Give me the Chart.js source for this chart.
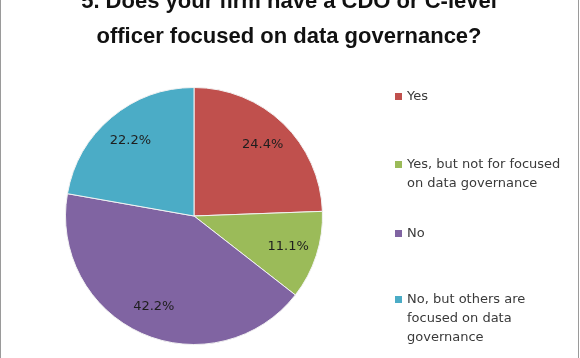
<!DOCTYPE html>
<html lang="en">
<head>
  <meta charset="UTF-8">
  <title>CDO or C-level officer</title>
  <script src="https://cdn.jsdelivr.net/npm/chart.js"></script>
  <style>
    body {
      margin: 0;
      background: #ffffff;
    }
    .wrap {
      position: relative;
      width: 580px;
      height: 358px;
    }
  </style>
</head>
<body>
  <div class="wrap">
    <canvas id="pieChart" width="580" height="358"></canvas>
  </div>

  <script>
    const titleLines = ['5. Does your firm have a CDO or C-level', 'officer focused on data governance?'];
    const categories = ['Yes', 'Yes, but not for focused on data governance', 'No', 'No, but others are focused on data governance'];
    const legendLines = [
      ['Yes'],
      ['Yes, but not for focused', 'on data governance'],
      ['No'],
      ['No, but others are', 'focused on data', 'governance']
    ];
    const shares = [24.4, 11.1, 42.2, 22.2];
    const sliceColors = ['#C0504D', '#9BBB59', '#8064A2', '#4BACC6'];

    // title, slice labels, legend and the frame lines
    const extras = {
      id: 'extras',
      afterDraw(chart) {
        const ctx = chart.ctx;
        ctx.save();

        // frame
        ctx.strokeStyle = '#9a9a9a';
        ctx.lineWidth = 1;
        ctx.beginPath();
        ctx.moveTo(0.5, 0); ctx.lineTo(0.5, 358);
        ctx.moveTo(578.5, 0); ctx.lineTo(578.5, 358);
        ctx.stroke();

        // title (first line is partly cut off by the top edge)
        ctx.fillStyle = '#111';
        ctx.font = 'bold 22px "Liberation Sans", Arial, sans-serif';
        ctx.textAlign = 'center';
        ctx.textBaseline = 'alphabetic';
        ctx.fillText(titleLines[0], 289, 8);
        ctx.fillText(titleLines[1], 289, 43);

        // percentages inside the slices
        const meta = chart.getDatasetMeta(0);
        ctx.font = '13px "DejaVu Sans", sans-serif';
        ctx.fillStyle = '#1e1e1e';
        ctx.textBaseline = 'middle';
        meta.data.forEach((arc, i) => {
          const p = arc.getProps(['x', 'y', 'startAngle', 'endAngle', 'outerRadius'], true);
          const mid = (p.startAngle + p.endAngle) / 2;
          const r = p.outerRadius * 0.77;
          ctx.fillText(shares[i].toFixed(1) + '%', p.x + Math.cos(mid) * r, p.y + Math.sin(mid) * r);
        });

        // legend
        const legendY = [97, 165, 234, 300];
        ctx.textAlign = 'left';
        ctx.font = '13px "DejaVu Sans", sans-serif';
        legendLines.forEach((lines, i) => {
          ctx.fillStyle = sliceColors[i];
          ctx.fillRect(395, legendY[i] - 4, 7, 7);
          ctx.fillStyle = '#3a3a3a';
          lines.forEach((t, j) => {
            ctx.fillText(t, 407, legendY[i] + j * 19);
          });
        });

        ctx.restore();
      }
    };

    new Chart(document.getElementById('pieChart'), {
      type: 'pie',
      data: {
        labels: categories,
        datasets: [{
          data: shares,
          backgroundColor: sliceColors,
          borderColor: '#f2f2f2',
          borderWidth: 1
        }]
      },
      options: {
        responsive: false,
        animation: false,
        layout: {
          padding: { left: 65, right: 257, top: 87, bottom: 13 }
        },
        plugins: {
          legend: { display: false },
          title: { display: false },
          tooltip: { enabled: false }
        }
      },
      plugins: [extras]
    });
  </script>
</body>
</html>
